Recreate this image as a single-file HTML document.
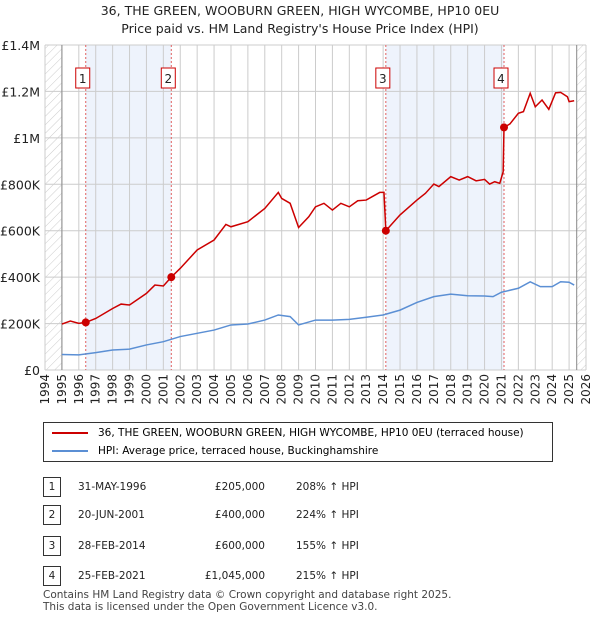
<!DOCTYPE html>
<html><head><meta charset="utf-8">
<style>
body{margin:0;background:#fff;font-family:"DejaVu Sans","Liberation Sans",sans-serif;}
#wrap{position:relative;width:600px;height:620px;overflow:hidden;}
.t{position:absolute;color:#222;}
</style></head><body>
<div id="wrap">
<div class="t" style="left:0;width:600px;top:2px;text-align:center;font-size:12.5px;line-height:18px;">36, THE GREEN, WOOBURN GREEN, HIGH WYCOMBE, HP10 0EU<br>Price paid vs. HM Land Registry's House Price Index (HPI)</div>
<svg id="chart" width="600" height="410" style="position:absolute;left:0;top:0"></svg>
<div style="position:absolute;left:43px;top:422px;width:508px;height:38px;border:1px solid #333;font-size:10.5px;">
 <div style="position:absolute;left:8px;top:4px;"><span style="display:inline-block;width:36px;height:2px;background:#cc0000;vertical-align:middle;margin-right:10px"></span>36, THE GREEN, WOOBURN GREEN, HIGH WYCOMBE, HP10 0EU (terraced house)</div>
 <div style="position:absolute;left:8px;top:22px;"><span style="display:inline-block;width:36px;height:2px;background:#5b8fd4;vertical-align:middle;margin-right:10px"></span>HPI: Average price, terraced house, Buckinghamshire</div>
</div>
<div id="table"></div>
<div class="t" style="left:43px;top:589px;font-size:10.5px;line-height:12px;color:#444">Contains HM Land Registry data © Crown copyright and database right 2025.<br>This data is licensed under the Open Government Licence v3.0.</div>
</div>
<script>
const redYears=[1995,1995.5,1996,1996.41,1997,1998,1998.5,1999,2000,2000.5,2001,2001.47,2002,2003,2004,2004.7,2005,2006,2007,2007.8,2008,2008.5,2009,2009.6,2010,2010.5,2011,2011.5,2012,2012.5,2013,2013.8,2014.05,2014.16,2015,2016,2016.5,2017,2017.3,2018,2018.5,2019,2019.5,2020,2020.3,2020.6,2020.9,2021.1,2021.15,2021.5,2022,2022.3,2022.7,2023,2023.4,2023.8,2024.2,2024.5,2024.9,2025.0,2025.3];
const redValues=[198,211,201,205,222,265,284,280,330,366,362,400,438,517,560,627,617,639,696,765,739,718,614,660,703,718,689,718,703,729,732,765,765,600,668,732,761,801,790,833,818,833,815,821,801,811,804,854,1045,1060,1106,1113,1192,1134,1163,1123,1194,1196,1177,1156,1160];
const hpiYears=[1995,1996,1997,1998,1999,2000,2001,2002,2003,2004,2005,2006,2007,2007.8,2008.5,2009,2010,2011,2012,2013,2014,2015,2016,2017,2018,2019,2020,2020.5,2021,2022,2022.7,2023.3,2024,2024.5,2025,2025.3];
const hpiValues=[67,65,75,86,90,108,122,144,158,172,194,198,215,237,230,194,215,215,218,227,237,258,291,316,327,320,319,316,335,352,380,359,359,380,378,366];
const saleYears=[1996.41,2001.47,2014.16,2021.15];
const saleValues=[205,400,600,1045];
const saleLabels=["1","2","3","4"];
const saleDates=["31-MAY-1996","20-JUN-2001","28-FEB-2014","25-FEB-2021"];
const salePrices=["£205,000","£400,000","£600,000","£1,045,000"];
const saleHpi=["208% ↑ HPI","224% ↑ HPI","155% ↑ HPI","215% ↑ HPI"];
const yTicks=[0,200,400,600,800,1000,1200,1400];
const yTickLabels=["£0","£200K","£400K","£600K","£800K","£1M","£1.2M","£1.4M"];
const xStart=1994,xEnd=2026;
const L=45,R=586,T=45,B=370;
const x=v=>L+(v-xStart)/(xEnd-xStart)*(R-L);
const y=v=>B-v/1400*(B-T);
const NS="http://www.w3.org/2000/svg";
const svg=document.getElementById('chart');
const FF='DejaVu Sans, Liberation Sans, sans-serif';
function mk(tag,at,parent){const e=document.createElementNS(NS,tag);for(const k in at)e.setAttribute(k,at[k]);(parent||svg).appendChild(e);return e;}
const defs=mk('defs',{});
const pat=mk('pattern',{id:'hatch',width:6,height:6,patternUnits:'userSpaceOnUse',patternTransform:'rotate(45)'},defs);
mk('line',{x1:0,y1:0,x2:0,y2:6,stroke:'#ccc','stroke-width':1},pat);
for(const [a,b] of [[0,1],[2,3]]){
 const r=mk('rect',{x:x(saleYears[a]),y:T,width:x(saleYears[b])-x(saleYears[a]),height:B-T,fill:'#eef3fc'});
 
 
}
const h1=mk('rect',{x:L,y:T,width:x(1995)-L,height:B-T,fill:'url(#hatch)'});


const h2=mk('rect',{x:x(2025.45),y:T,width:R-x(2025.45),height:B-T,fill:'url(#hatch)'});


for(let yr=xStart;yr<=xEnd;yr++){
 mk('line',{x1:x(yr),y1:T,x2:x(yr),y2:B,stroke:'#ccc','stroke-width':1});
 const tx=mk('text',{x:0,y:0,transform:`translate(${x(yr)+4},${B+4}) rotate(-90)`,'text-anchor':'end','font-size':12,fill:'#222','font-family':FF});
 tx.textContent=yr;
 
 
}
yTicks.forEach((v,i)=>{
 mk('line',{x1:L,y1:y(v),x2:R,y2:y(v),stroke:'#ccc','stroke-width':1});
 const tx=mk('text',{x:40,y:y(v)+5,'text-anchor':'end','font-size':12.5,fill:'#222','font-family':FF});
 tx.textContent=yTickLabels[i];
 
 
});
mk('line',{x1:x(1995),y1:T,x2:x(1995),y2:B,stroke:'#888'});
mk('line',{x1:x(2025.45),y1:T,x2:x(2025.45),y2:B,stroke:'#888'});
saleYears.forEach((s,i)=>{
 mk('line',{x1:x(s),y1:T,x2:x(s),y2:B,stroke:'#e06060','stroke-dasharray':'2,2'});
 const g=mk('g',{});
 
 
 mk('rect',{x:x(s)-10,y:68,width:14,height:20,fill:'#fff',stroke:'#cc0000'},g);
 const t=mk('text',{x:x(s)-3,y:83,'text-anchor':'middle','font-size':12,fill:'#222','font-family':FF},g);
 t.textContent=saleLabels[i];
});
const hp=mk('polyline',{points:hpiYears.map((v,i)=>x(v)+','+y(hpiValues[i])).join(' '),fill:'none',stroke:'#5b8fd4','stroke-width':1.5});


const rp=mk('polyline',{points:redYears.map((v,i)=>x(v)+','+y(redValues[i])).join(' '),fill:'none',stroke:'#cc0000','stroke-width':1.5});


saleYears.forEach((s,i)=>{
 const c=mk('circle',{cx:x(s),cy:y(saleValues[i]),r:4,fill:'#cc0000'});
 
 
});
const tb=document.getElementById('table');
const rowY=[477,505,536,566];
saleLabels.forEach((lb,i)=>{
 const r=document.createElement('div');
 
 
 r.style.cssText=`position:absolute;left:0;top:${rowY[i]}px;width:600px;height:20px;font-size:10.5px;color:#222`;
 r.innerHTML=`<span style="position:absolute;left:43px;top:0;width:16px;height:18px;border:1px solid #333;text-align:center;line-height:18px">${lb}</span>`+
 `<span style="position:absolute;left:78px;top:4px">${saleDates[i]}</span>`+
 `<span style="position:absolute;left:170px;width:95px;text-align:right;top:4px">${salePrices[i]}</span>`+
 `<span style="position:absolute;left:296px;top:4px">${saleHpi[i]}</span>`;
 tb.appendChild(r);
});
</script>
</body></html>
